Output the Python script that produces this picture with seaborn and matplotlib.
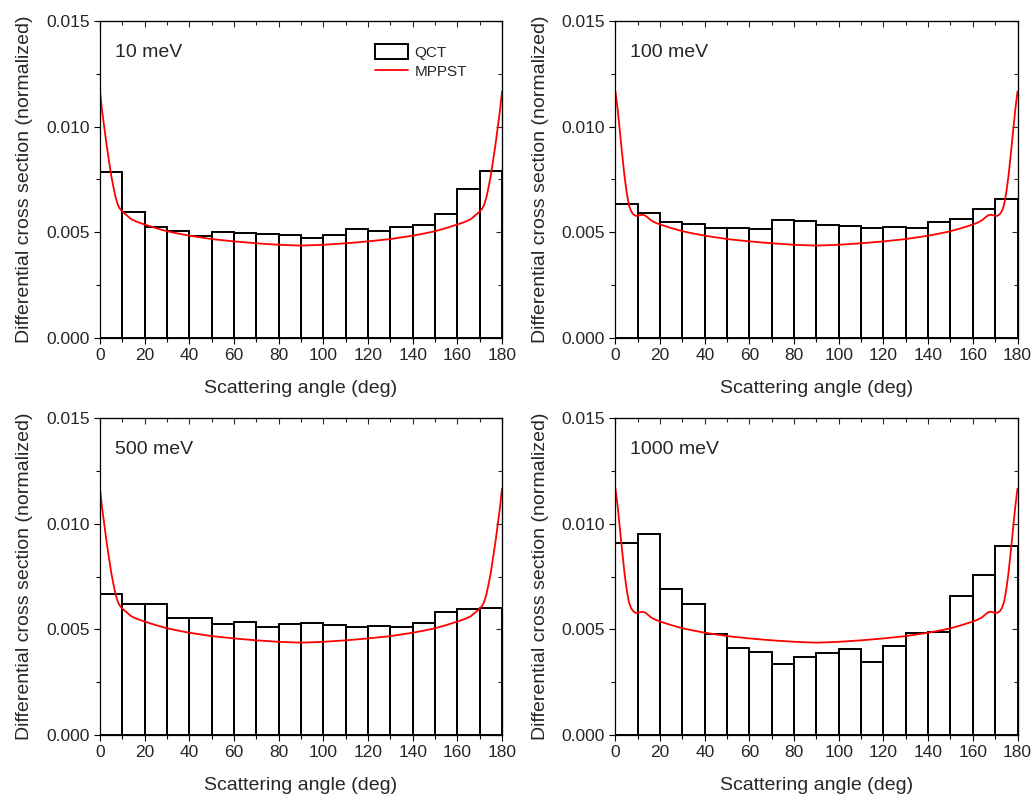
import matplotlib
matplotlib.use('Agg')
import matplotlib.pyplot as plt
from matplotlib.patches import Patch
from matplotlib.lines import Line2D
from matplotlib.ticker import MultipleLocator
import seaborn as sns
import pandas as pd

# QCT histograms, 10-degree bins
bin_edges = [0, 10, 20, 30, 40, 50, 60, 70, 80, 90, 100, 110, 120, 130, 140, 150, 160, 170, 180]
bin_centers = [5, 15, 25, 35, 45, 55, 65, 75, 85, 95, 105, 115, 125, 135, 145, 155, 165, 175]

qct_10 = [0.00783, 0.00596, 0.00523, 0.00506, 0.00481, 0.00501, 0.00496, 0.00493, 0.00488,
          0.00474, 0.00485, 0.00515, 0.00506, 0.00523, 0.00533, 0.00586, 0.00706, 0.00790]
qct_100 = [0.00632, 0.00589, 0.00547, 0.00540, 0.00518, 0.00522, 0.00517, 0.00556, 0.00553,
           0.00533, 0.00529, 0.00522, 0.00526, 0.00522, 0.00548, 0.00563, 0.00608, 0.00657]
qct_500 = [0.00668, 0.00622, 0.00619, 0.00552, 0.00552, 0.00523, 0.00533, 0.00511, 0.00525,
           0.00529, 0.00522, 0.00511, 0.00517, 0.00512, 0.00531, 0.00583, 0.00597, 0.00602]
qct_1000 = [0.00908, 0.00952, 0.00693, 0.00621, 0.00479, 0.00413, 0.00394, 0.00334, 0.00370,
            0.00389, 0.00407, 0.00347, 0.00421, 0.00481, 0.00487, 0.00656, 0.00758, 0.00892]

# MPPST curves
angle_smooth = [0, 1, 2, 3, 4, 5, 6, 7, 8, 9, 10, 12, 14, 16, 18, 20, 25, 30, 35, 40, 50, 60, 70, 80, 90,
                100, 110, 120, 130, 140, 145, 150, 155, 160, 162, 164, 166, 168, 170,
                171, 172, 173, 174, 175, 176, 177, 178, 179, 180]
mppst_smooth = [0.01166, 0.01070, 0.00990, 0.00910, 0.00840, 0.00770, 0.00715, 0.00665, 0.00630, 0.00610,
                0.00598, 0.00580, 0.00562, 0.00552, 0.00544, 0.00537, 0.00520, 0.00505, 0.00494, 0.00484,
                0.00468, 0.00457, 0.00448, 0.00441, 0.00437,
                0.00441, 0.00448, 0.00457, 0.00468, 0.00484, 0.00494, 0.00505, 0.00520, 0.00537, 0.00544,
                0.00552, 0.00562, 0.00580, 0.00598,
                0.00610, 0.00630, 0.00665, 0.00715, 0.00770, 0.00840, 0.00910, 0.00990, 0.01070, 0.01166]

angle_bump = [0, 1, 2, 3, 4, 5, 6, 7, 8, 9, 10, 11, 12, 13, 14, 15, 16, 18, 20, 25, 30, 35, 40, 50, 60, 70, 80, 90,
              100, 110, 120, 130, 140, 145, 150, 155, 160, 162, 164, 165, 166, 167, 168, 169, 170,
              171, 172, 173, 174, 175, 176, 177, 178, 179, 180]
mppst_bump = [0.01166, 0.01080, 0.00975, 0.00870, 0.00770, 0.00690, 0.00630, 0.00600, 0.00585, 0.00578,
              0.00578, 0.00581, 0.00583, 0.00581, 0.00574, 0.00565, 0.00556, 0.00545, 0.00537, 0.00520,
              0.00505, 0.00494, 0.00484, 0.00468, 0.00457, 0.00448, 0.00441, 0.00437,
              0.00441, 0.00448, 0.00457, 0.00468, 0.00484, 0.00494, 0.00505, 0.00520, 0.00537, 0.00545,
              0.00556, 0.00565, 0.00574, 0.00581, 0.00583, 0.00581, 0.00578,
              0.00578, 0.00585, 0.00600, 0.00630, 0.00690, 0.00770, 0.00870, 0.00975, 0.01080, 0.01166]

panels = [
    ('10 meV', qct_10, angle_smooth, mppst_smooth),
    ('100 meV', qct_100, angle_bump, mppst_bump),
    ('500 meV', qct_500, angle_smooth, mppst_smooth),
    ('1000 meV', qct_1000, angle_bump, mppst_bump),
]

sns.set_style('ticks')
plt.rcParams['font.family'] = ['Liberation Sans', 'DejaVu Sans']

fig = plt.figure(figsize=(10.33, 7.96), dpi=100)
positions = [
    [0.0968, 0.5754, 0.3892, 0.3983],
    [0.5958, 0.5754, 0.3892, 0.3983],
    [0.0968, 0.0766, 0.3892, 0.3983],
    [0.5958, 0.0766, 0.3892, 0.3983],
]

for pos, (label, qct, ang, mppst) in zip(positions, panels):
    ax = fig.add_axes(pos)
    df = pd.DataFrame({'angle': bin_centers, 'dcs': qct})
    sns.histplot(data=df, x='angle', weights='dcs', bins=bin_edges, fill=False,
                 element='bars', color='black', linewidth=1.4, ax=ax)
    sns.lineplot(x=ang, y=mppst, color='red', linewidth=1.3, ax=ax)
    ax.set_xlim(0, 180)
    ax.set_ylim(0, 0.015)
    ax.xaxis.set_major_locator(MultipleLocator(20))
    ax.xaxis.set_minor_locator(MultipleLocator(10))
    ax.yaxis.set_major_locator(MultipleLocator(0.005))
    ax.yaxis.set_minor_locator(MultipleLocator(0.0025))
    ax.yaxis.set_major_formatter(matplotlib.ticker.FormatStrFormatter('%.3f'))
    ax.tick_params(which='both', direction='out', labelsize=12.5, width=0.8, color='black')
    ax.tick_params(which='major', length=4)
    ax.tick_params(which='minor', length=3)
    for sp in ax.spines.values():
        sp.set_linewidth(0.9)
        sp.set_color('black')
    # inward ticks on top and right spines
    ax2 = ax.secondary_xaxis('top')
    ax2.xaxis.set_major_locator(MultipleLocator(20))
    ax2.xaxis.set_minor_locator(MultipleLocator(10))
    ax2.tick_params(which='both', direction='in', labeltop=False, width=0.8)
    ax2.tick_params(which='major', length=4)
    ax2.tick_params(which='minor', length=3)
    ax3 = ax.secondary_yaxis('right')
    ax3.yaxis.set_major_locator(MultipleLocator(0.005))
    ax3.yaxis.set_minor_locator(MultipleLocator(0.0025))
    ax3.tick_params(which='both', direction='in', labelright=False, width=0.8)
    ax3.tick_params(which='major', length=4)
    ax3.tick_params(which='minor', length=3)
    ax.set_xlabel('Scattering angle (deg)', fontsize=14, labelpad=12)
    ax.set_ylabel('Differential cross section (normalized)', fontsize=14, labelpad=9)
    ax.text(0.037, 0.902, label, transform=ax.transAxes, fontsize=14, va='center', ha='left')
    if label == '10 meV':
        handles = [Patch(facecolor='white', edgecolor='black', linewidth=1.4),
                   Line2D([0], [0], color='red', linewidth=1.3)]
        ax.legend(handles, ['QCT', 'MPPST'], loc='upper left', bbox_to_anchor=(0.668, 0.945),
                  frameon=False, fontsize=11, handlelength=2.2, handleheight=1.1,
                  handletextpad=0.4, labelspacing=0.25, borderaxespad=0)

fig.savefig('out.png', dpi=100)
